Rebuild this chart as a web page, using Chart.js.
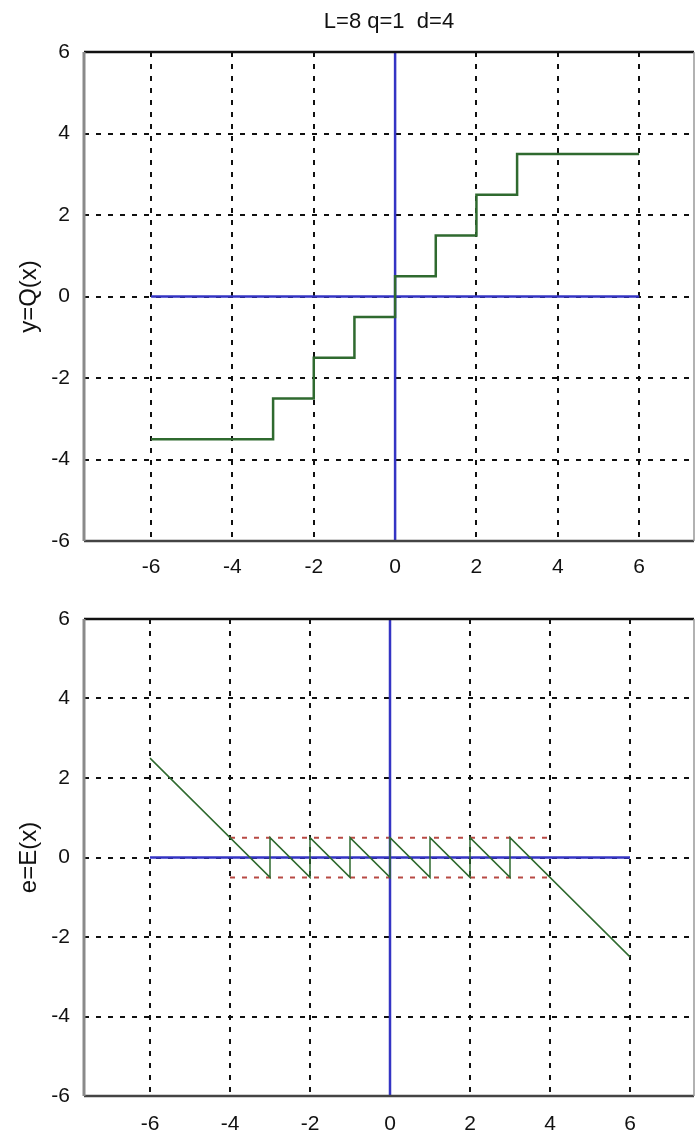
<!DOCTYPE html>
<html>
<head>
<meta charset="utf-8">
<script src="https://cdn.jsdelivr.net/npm/chart.js@4.4.1/dist/chart.umd.min.js"></script>
<style>
  body { margin: 0; background: #fff; }
  canvas { display: block; }
</style>
</head>
<body>
<canvas id="top" width="698" height="590"></canvas>
<canvas id="bottom" width="698" height="543"></canvas>
<script>
// quantizer settings shown in the title
const titleText = 'L=8 q=1  d=4';

// tick labels
const xTicks = [-6, -4, -2, 0, 2, 4, 6];
const yTicks = [-6, -4, -2, 0, 2, 4, 6];

// staircase y = Q(x)
const stepX = [-6, -3, -3, -2, -2, -1, -1, 0, 0, 1, 1, 2, 2, 3, 3, 6];
const stepY = [-3.5, -3.5, -2.5, -2.5, -1.5, -1.5, -0.5, -0.5, 0.5, 0.5, 1.5, 1.5, 2.5, 2.5, 3.5, 3.5];

// error e = E(x)
const errX = [-6, -3, -3, -2, -2, -1, -1, 0, 0, 1, 1, 2, 2, 3, 3, 6];
const errY = [2.5, -0.5, 0.5, -0.5, 0.5, -0.5, 0.5, -0.5, 0.5, -0.5, 0.5, -0.5, 0.5, -0.5, 0.5, -2.5];

// blue axis lines
const hAxisX = [-6, 6];
const hAxisY = [0, 0];
const vAxisX = [0, 0];
const vAxisY = [-6, 6];

// red error bounds
const boundX = [-4, 4];
const upperY = [0.5, 0.5];
const lowerY = [-0.5, -0.5];

const font = { family: 'Liberation Sans', size: 21 };
const green = '#2f6a2f';
const blue = '#3434c4';
const red = '#b84a44';

function pts(xs, ys) {
  return xs.map((x, i) => ({ x: x, y: ys[i] }));
}

function line(xs, ys, color, width, dash) {
  return {
    data: pts(xs, ys),
    borderColor: color,
    borderWidth: width,
    borderDash: dash || [],
    pointRadius: 0,
    fill: false,
    tension: 0
  };
}

// box round the axes, like matlab's
const boxPlugin = {
  id: 'box',
  afterDraw(chart) {
    const { ctx, chartArea: a } = chart;
    ctx.save();
    ctx.lineWidth = 2.5;
    ctx.strokeStyle = '#111';
    ctx.beginPath(); ctx.moveTo(a.left, a.top); ctx.lineTo(a.right, a.top); ctx.stroke();
    ctx.strokeStyle = '#444';
    ctx.beginPath(); ctx.moveTo(a.left, a.bottom); ctx.lineTo(a.right, a.bottom); ctx.stroke();
    ctx.lineWidth = 3;
    ctx.strokeStyle = '#8a8a8a';
    ctx.beginPath(); ctx.moveTo(a.left, a.top); ctx.lineTo(a.left, a.bottom); ctx.stroke();
    ctx.lineWidth = 1.5;
    ctx.strokeStyle = '#999';
    ctx.beginPath(); ctx.moveTo(a.right, a.top); ctx.lineTo(a.right, a.bottom); ctx.stroke();
    ctx.restore();
  }
};

function makeOptions(xMin, xMax, yLabel, axisHeight, tickPad, withTitle, topPad) {
  return {
    responsive: false,
    animation: false,
    devicePixelRatio: 1,
    layout: { padding: { top: topPad, right: 4, left: 0, bottom: 0 } },
    plugins: {
      legend: { display: false },
      tooltip: { enabled: false },
      title: {
        display: withTitle,
        text: titleText,
        fullSize: false,
        color: '#111',
        font: { family: font.family, size: 22, weight: 'normal' },
        padding: { top: 9, bottom: 16.6 }
      }
    },
    scales: {
      x: {
        type: 'linear',
        min: xMin,
        max: xMax,
        afterBuildTicks: axis => { axis.ticks = xTicks.map(v => ({ value: v })); },
        afterFit: axis => { axis.height = axisHeight; },
        ticks: { color: '#111', font: font, padding: tickPad, maxRotation: 0 },
        grid: { color: '#111', lineWidth: 2, drawTicks: false },
        border: { display: false, dash: [5, 7] }
      },
      y: {
        type: 'linear',
        min: -6,
        max: 6,
        afterBuildTicks: axis => { axis.ticks = yTicks.map(v => ({ value: v })); },
        afterFit: axis => { axis.width = 84; },
        ticks: { color: '#111', font: font, padding: 14 },
        grid: { color: '#111', lineWidth: 2, drawTicks: false },
        border: { display: false, dash: [5, 7] },
        title: {
          display: true,
          text: yLabel,
          color: '#111',
          font: { family: font.family, size: 24 },
          padding: { top: 14.6, bottom: 0 }
        }
      }
    }
  };
}

new Chart(document.querySelector('#top'), {
  type: 'line',
  data: {
    datasets: [
      line(stepX, stepY, green, 2.5),
      line(hAxisX, hAxisY, blue, 2.5),
      line(vAxisX, vAxisY, blue, 2.5)
    ]
  },
  options: makeOptions(-7.65, 7.35, 'y=Q(x)', 49, 13.5, true, 0),
  plugins: [boxPlugin]
});

new Chart(document.querySelector('#bottom'), {
  type: 'line',
  data: {
    datasets: [
      line(errX, errY, green, 1.5),
      line(hAxisX, hAxisY, blue, 2.5),
      line(vAxisX, vAxisY, blue, 2.5),
      line(boundX, upperY, red, 2, [5, 7]),
      line(boundX, lowerY, red, 2, [5, 7])
    ]
  },
  options: makeOptions(-7.65, 7.6, 'e=E(x)', 37, 15.5, false, 29),
  plugins: [boxPlugin]
});
</script>
</body>
</html>
